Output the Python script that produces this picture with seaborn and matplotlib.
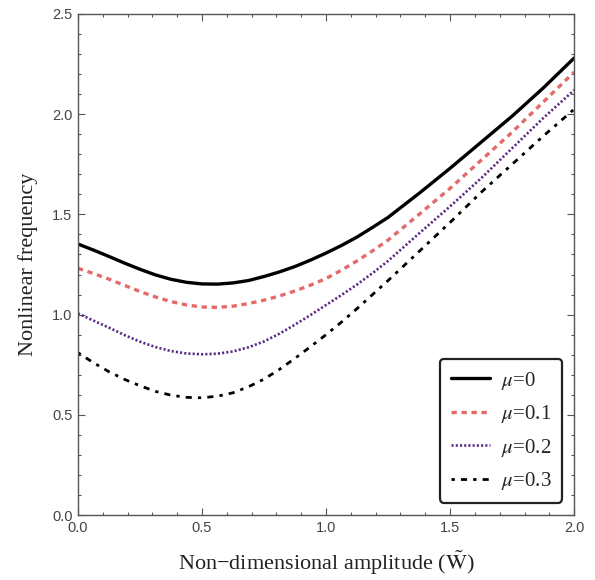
import numpy as np
import pandas as pd
import matplotlib
matplotlib.use("Agg")
import matplotlib.pyplot as plt
import seaborn as sns

# ---- data ----
amplitude = [0.0, 0.0625, 0.125, 0.1875, 0.25, 0.3125, 0.375, 0.4375, 0.5,
             0.5625, 0.625, 0.6875, 0.75, 0.8125, 0.875, 0.9375, 1.0,
             1.0625, 1.125, 1.1875, 1.25, 1.375, 1.5, 1.625, 1.75, 1.875, 2.0]
freq_mu0 = [1.352, 1.322, 1.29, 1.257, 1.226, 1.198, 1.176, 1.161, 1.153,
            1.152, 1.158, 1.17, 1.19, 1.213, 1.24, 1.272, 1.307,
            1.345, 1.387, 1.435, 1.485, 1.605, 1.73, 1.86, 1.99, 2.13, 2.28]
freq_mu01 = [1.231, 1.205, 1.177, 1.146, 1.115, 1.088, 1.065, 1.048, 1.038,
             1.036, 1.042, 1.055, 1.072, 1.093, 1.118, 1.147, 1.18,
             1.222, 1.268, 1.318, 1.372, 1.50, 1.63, 1.77, 1.91, 2.06, 2.21]
freq_mu02 = [1.006, 0.97, 0.935, 0.898, 0.865, 0.838, 0.818, 0.806, 0.802,
             0.805, 0.816, 0.837, 0.866, 0.905, 0.95, 0.998, 1.048,
             1.098, 1.15, 1.207, 1.268, 1.405, 1.54, 1.68, 1.83, 1.98, 2.12]
freq_mu03 = [0.81, 0.76, 0.715, 0.677, 0.645, 0.617, 0.598, 0.587, 0.585,
             0.593, 0.61, 0.64, 0.678, 0.727, 0.782, 0.84, 0.9,
             0.963, 1.03, 1.1, 1.17, 1.315, 1.46, 1.61, 1.75, 1.89, 2.025]
series_labels = [r"$\mu$=0", r"$\mu$=0.1", r"$\mu$=0.2", r"$\mu$=0.3"]
x_ticks = [0.0, 0.5, 1.0, 1.5, 2.0]
y_ticks = [0.0, 0.5, 1.0, 1.5, 2.0, 2.5]

df = pd.DataFrame({
    "W": amplitude * 4,
    "freq": freq_mu0 + freq_mu01 + freq_mu02 + freq_mu03,
    "mu": sum([[lab] * len(amplitude) for lab in series_labels], []),
})

sns.set_theme(style="ticks")
plt.rcParams["font.family"] = ["Liberation Serif", "DejaVu Serif"]
plt.rcParams["mathtext.fontset"] = "stix"

fig = plt.figure(figsize=(5.95, 5.80), dpi=100)
ax = fig.add_axes([0.131, 0.112, 0.834, 0.864])

styles = {
    series_labels[0]: dict(color="black", lw=2.4, ls="-"),
    series_labels[1]: dict(color="#e46a6a", lw=2.4, ls=(0, (1.6, 1.4))),
    series_labels[2]: dict(color="#5b2a86", lw=1.9, ls=(0, (0.8, 0.8))),
    series_labels[3]: dict(color="black", lw=2.0, ls=(0, (1.2, 2.2, 2.2, 2.2))),
}
for lab in series_labels:
    sub = df[df["mu"] == lab]
    st = styles[lab]
    sns.lineplot(data=sub, x="W", y="freq", ax=ax, label=lab,
                 color=st["color"], linewidth=st["lw"], linestyle=st["ls"],
                 estimator=None, sort=True)

ax.set_xlim(0, 2)
ax.set_ylim(0, 2.5)
ax.set_xticks(x_ticks)
ax.set_yticks(y_ticks)
ax.set_xticks(np.arange(0, 2.0001, 0.1), minor=True)
ax.set_yticks(np.arange(0, 2.5001, 0.1), minor=True)
tick_font = dict(family="Liberation Sans", size=10.5)
ax.set_xticklabels([f"{v:.1f}" for v in x_ticks], fontdict=tick_font, color="#444444")
ax.set_yticklabels([f"{v:.1f}" for v in y_ticks], fontdict=tick_font, color="#444444")
ax.tick_params(which="both", direction="in", top=True, right=True,
               color="#555555", width=0.8)
ax.tick_params(which="major", length=5, pad=4)
ax.tick_params(which="minor", length=2.5)
for sp in ax.spines.values():
    sp.set_color("#555555")
    sp.set_linewidth(1.0)

ax.set_xlabel("Non\u2212dimensional amplitude ($\\tilde{\\mathrm{W}}$)",
              fontsize=16, color="#222222", labelpad=10)
ax.set_ylabel("Nonlinear frequency", fontsize=16, color="#222222", labelpad=10)

leg = ax.legend(loc="lower right", fontsize=15, frameon=True, fancybox=True,
                handlelength=1.9, handletextpad=0.5, borderpad=0.5,
                labelspacing=0.55, borderaxespad=0.6)
leg.get_frame().set_edgecolor("#222222")
leg.get_frame().set_linewidth(1.6)
leg.get_frame().set_alpha(1)

fig.savefig("out.png", dpi=100)
